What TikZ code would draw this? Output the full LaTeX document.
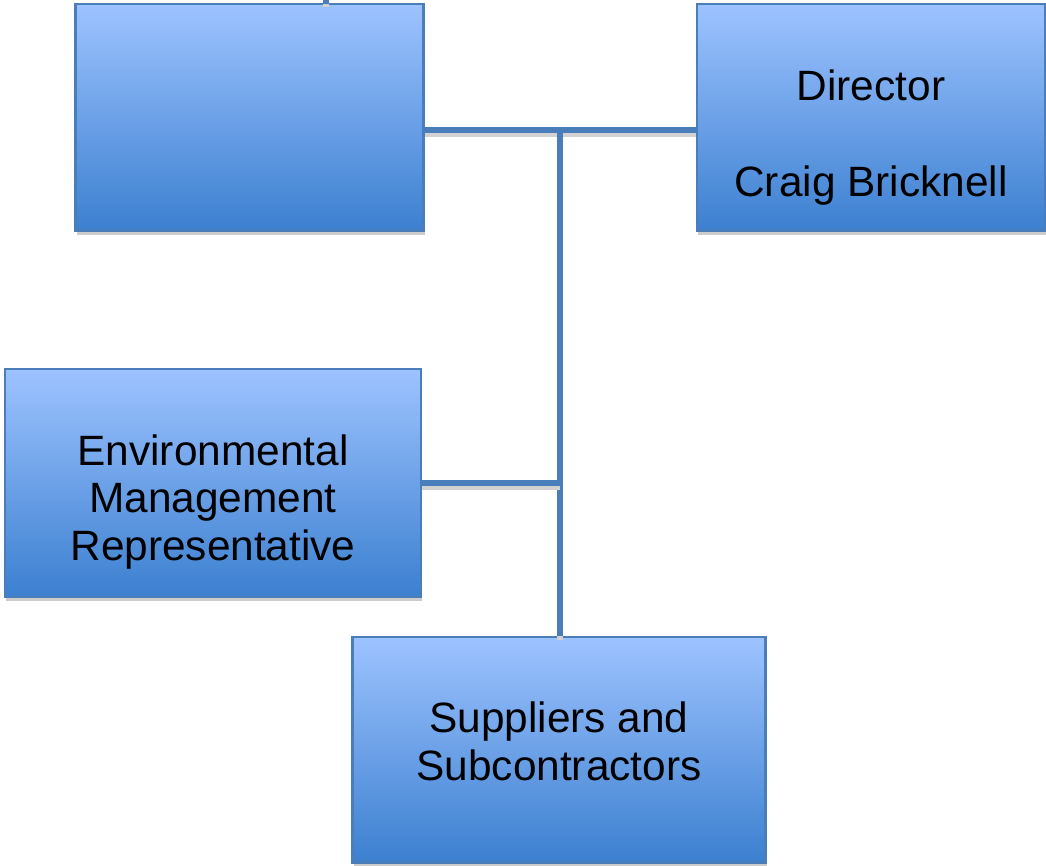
\documentclass[tikz,border=0pt]{standalone}
\usepackage{fontspec}
\setmainfont{Liberation Sans}
\usetikzlibrary{shadows}
\definecolor{boxtop}{HTML}{9DC3FF}
\definecolor{boxbot}{HTML}{3C80D0}
\definecolor{boxline}{HTML}{4A7EBB}
\begin{document}
\begin{tikzpicture}
  [x=0.75pt,y=-0.75pt,
   every node/.style={rectangle,draw=boxline,line width=2pt,top color=boxtop,bottom color=boxbot,
     drop shadow={shadow xshift=1pt,shadow yshift=-3pt,fill=black!20,opacity=1},
     align=center,font=\fontsize{31.8}{35.5}\selectfont,text depth=0pt},
   link/.style={draw=boxline,line width=4.5pt,
     preaction={draw=black!18,line width=4.5pt,transform canvas={yshift=-3pt}}}]
  \useasboundingbox (0,0) rectangle (1046,866);
  \node (n1)[minimum width=261pt,minimum height=170pt] at (249.5,117.5) {};
  \node (n2)[minimum width=261pt,minimum height=170pt,text height=118.8pt] at (871,117.5) {Director\\[37pt]Craig Bricknell};
  \node (n3)[minimum width=312pt,minimum height=171pt,text height=115.5pt] at (213,483) {Environmental\\Management\\Representative};
  \node (n4)[minimum width=310pt,minimum height=169pt,text height=45.8pt] at (559,749.5) {Suppliers and\\Subcontractors};
  \coordinate (j1) at (560,130);
  \coordinate (j2) at (560,483);
  \coordinate (t) at (326,0);

  \foreach \from/\to in {n1.east |- j1/n2.west |- j1,j1/n4.north -| j1,n3.east |- j2/j2,n1.north -| t/t}
    \draw[link] (\from) -- (\to);

\end{tikzpicture}
\end{document}
